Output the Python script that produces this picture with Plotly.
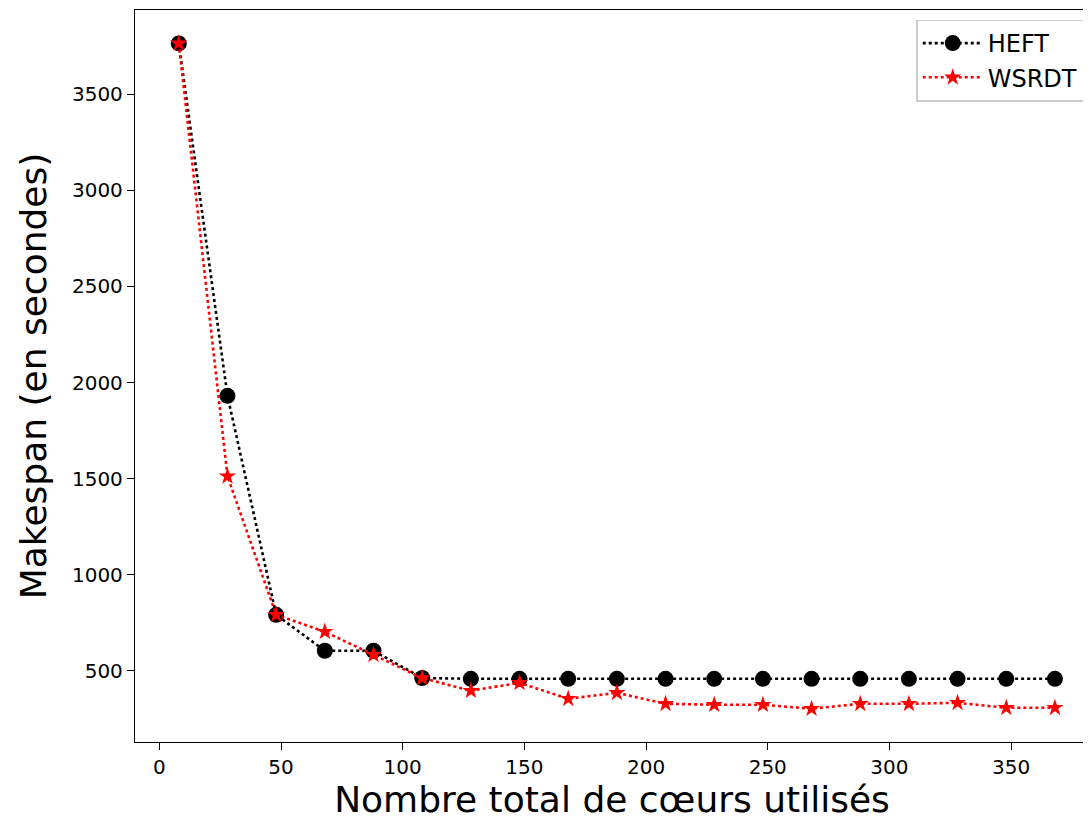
import plotly.graph_objects as go

cores = [8, 28, 48, 68, 88, 108, 128, 148, 168, 188, 208, 228, 248, 268, 288, 308, 328, 348, 368]
heft = [3765, 1931, 791, 604, 604, 462, 458, 458, 458, 458, 458, 458, 458, 458, 458, 458, 458, 458, 458]
wsrdt = [3765, 1512, 791, 703, 583, 462, 396, 437, 354, 385, 328, 323, 323, 302, 328, 328, 333, 307, 307]

font = "DejaVu Sans"

fig = go.Figure()
fig.add_trace(go.Scatter(
    x=cores, y=heft, name="HEFT", mode="lines+markers",
    line=dict(color="black", width=2.6, dash="dot"),
    marker=dict(symbol="circle", size=16, color="black"),
))
fig.add_trace(go.Scatter(
    x=cores, y=wsrdt, name="WSRDT", mode="lines+markers",
    line=dict(color="red", width=2.6, dash="dot"),
    marker=dict(symbol="star", size=13, color="red"),
))

axis = dict(
    showgrid=False, zeroline=False, showline=True, linecolor="black", linewidth=1.3,
    mirror=True, ticks="outside", ticklen=7, tickwidth=1.3, tickcolor="black",
    tickfont=dict(family=font, size=20, color="black"), automargin=False,
)

# page has an 8px body margin, so the figure is a bit smaller than the window
fig.update_layout(
    width=1083, height=815,
    margin=dict(l=127, r=2, t=2, b=81),
    paper_bgcolor="white", plot_bgcolor="white",
    font=dict(family=font, color="black"),
    xaxis=dict(axis, range=[-10, 382], tickvals=[0, 50, 100, 150, 200, 250, 300, 350],
               title=dict(text="Nombre total de cœurs utilisés", font=dict(family=font, size=36), standoff=6)),
    yaxis=dict(axis, range=[129, 3939], tickvals=[500, 1000, 1500, 2000, 2500, 3000, 3500],
               title=dict(text="Makespan (en secondes)", font=dict(family=font, size=36), standoff=14)),
    legend=dict(x=0.995, y=0.987, xanchor="right", yanchor="top",
                bordercolor="#cccccc", borderwidth=1.5, bgcolor="white",
                itemwidth=60, font=dict(family=font, size=24)),
)

fig.write_html("out.html")
